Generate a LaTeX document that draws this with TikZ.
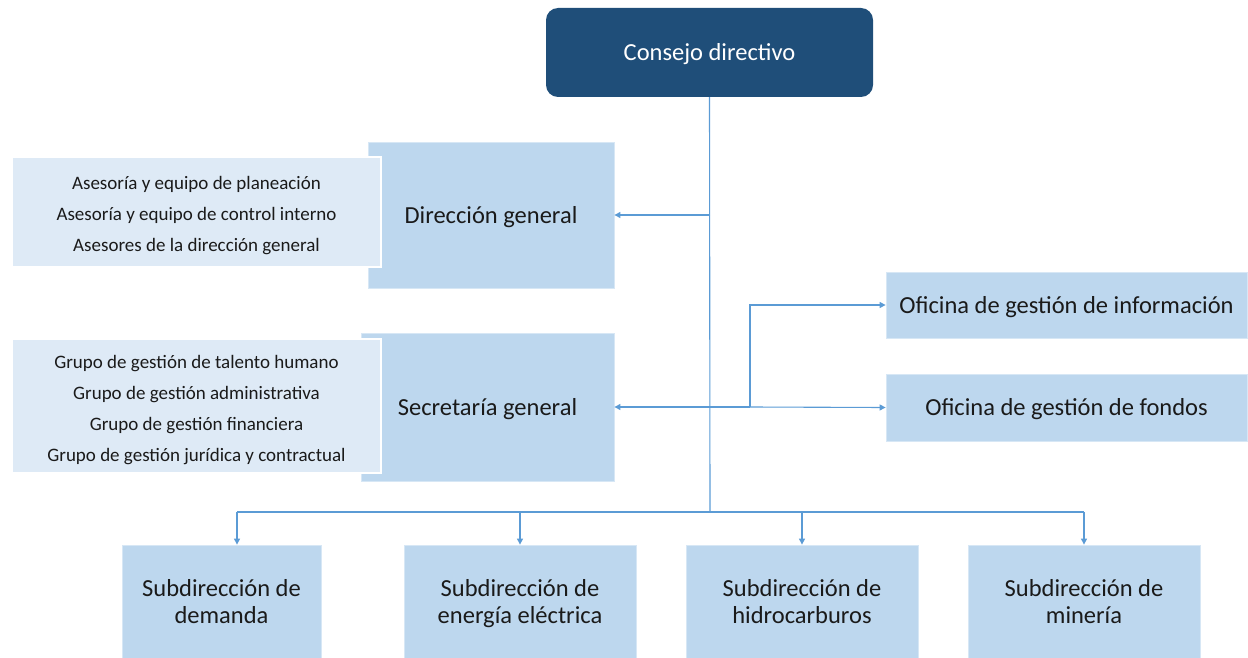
\documentclass[tikz,border=0pt]{standalone}
\usepackage{fontspec}
\setmainfont{Carlito}
\usetikzlibrary{arrows.meta}
\definecolor{darkblue}{HTML}{1F4E79}
\definecolor{midblue}{HTML}{BDD7EE}
\definecolor{lightblue}{HTML}{DEEAF6}
\definecolor{lineblue}{HTML}{5B9BD5}
\definecolor{txt}{HTML}{1A1A1A}
\newcommand{\tpA}{\rule{0pt}{25pt}}
\newcommand{\tpB}{\rule{0pt}{26.5pt}}
\tikzset{
  x=1pt, y=-1pt,
  mainbox/.style={fill=midblue, draw=midblue!60!white, line width=0.8pt, text=txt, align=center, inner sep=0pt,
    font=\fontsize{24.5}{27}\selectfont},
  sidebox/.style={fill=lightblue, draw=white, line width=1.2pt, text=txt, align=center, inner sep=0pt,
    font=\fontsize{19}{31}\selectfont},
  topbox/.style={fill=darkblue, rounded corners=12pt, text=white, align=center, inner sep=0pt,
    font=\fontsize{24.5}{27}\selectfont},
  conn/.style={draw=lineblue, line width=1.1pt},
  arr/.style={conn, -{Triangle[length=6pt,width=6pt]}},
}
\begin{document}
\begin{tikzpicture}
\useasboundingbox (0,0) rectangle (1248,658);
% top
\node[topbox, minimum width=327, minimum height=89] (cd) at (709.5,52.5) {\tpA Consejo directivo\strut};
% direccion
\node[mainbox, minimum width=246, minimum height=146] (dg) at (491,215) {\tpA Dirección general\strut};
\node[sidebox, minimum width=369, minimum height=110] (dgs) at (196.5,212) {\tpB Asesoría y equipo de planeación\\Asesoría y equipo de control interno\\Asesores de la dirección general\strut};
% secretaria
\node[mainbox, minimum width=253, minimum height=148] (sg) at (487.5,407) {\tpA Secretaría general\strut};
\node[sidebox, minimum width=369, minimum height=134] (sgs) at (196.5,406) {\tpB Grupo de gestión de talento humano\\Grupo de gestión administrativa\\Grupo de gestión financiera\\Grupo de gestión jurídica y contractual\strut};
% oficinas
\node[mainbox, minimum width=361, minimum height=66] (oi) at (1066.5,305) {\tpA Oficina de gestión de información\strut};
\node[mainbox, minimum width=361, minimum height=67] (of) at (1066.5,407.5) {\tpA Oficina de gestión de fondos\strut};
% subdirecciones
\node[mainbox, minimum width=199, minimum height=114] (s1) at (221.5,602) {\tpA Subdirección de\\demanda\strut};
\node[mainbox, minimum width=232, minimum height=114] (s2) at (520,602) {\tpA Subdirección de\\energía eléctrica\strut};
\node[mainbox, minimum width=232, minimum height=114] (s3) at (802,602) {\tpA Subdirección de\\hidrocarburos\strut};
\node[mainbox, minimum width=232, minimum height=114] (s4) at (1084,602) {\tpA Subdirección de\\minería\strut};
% connectors
\coordinate (bus) at (710,512);
\coordinate (sp) at (750,407);
\coordinate (b1) at (237,512);
\draw[conn] (cd.south) -- (bus);
\draw[arr] (dg.east -| bus) -- (dg.east);
\draw[arr] (sp) -- (sg.east);
\draw[arr] (sp) -- (of.west);
\draw[arr] (sp) |- (oi.west);
\draw[conn] (b1) -- (s4.north |- bus);
\draw[arr] (b1) -- (b1 |- s1.north);
\draw[arr] (s2.north |- bus) -- (s2.north);
\draw[arr] (s3.north |- bus) -- (s3.north);
\draw[arr] (s4.north |- bus) -- (s4.north);
\end{tikzpicture}
\end{document}
